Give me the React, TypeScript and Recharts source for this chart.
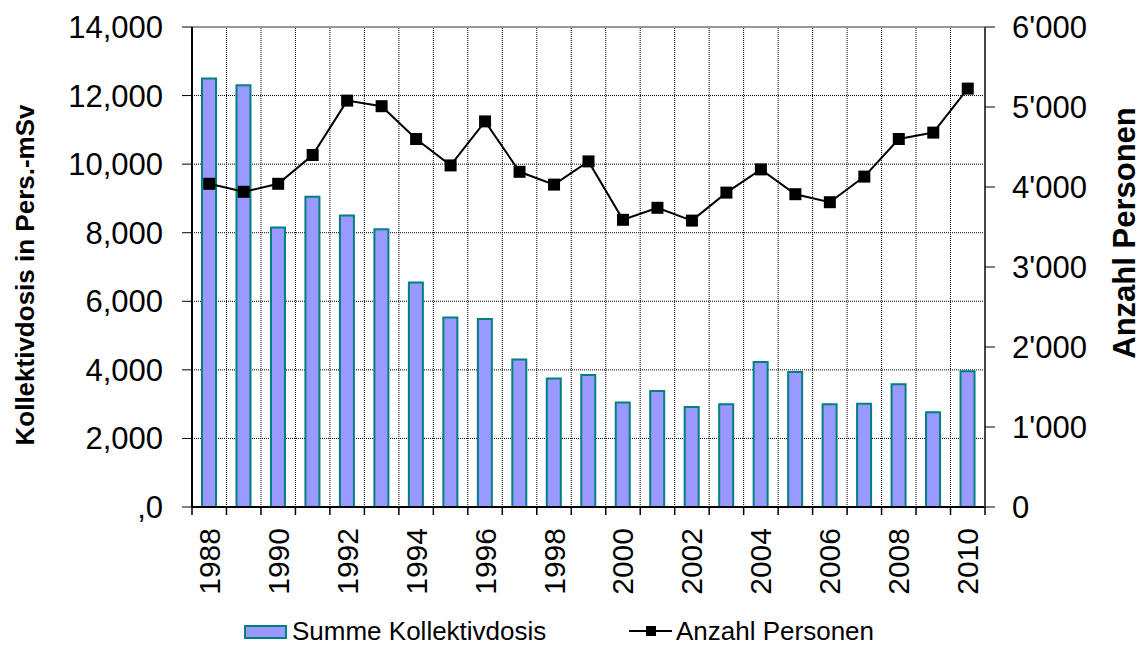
import React from "react"
import {
  Bar,
  CartesianGrid,
  ComposedChart,
  Line,
  ReferenceLine,
  XAxis,
  YAxis,
} from "recharts"

const years = [
  1988, 1989, 1990, 1991, 1992, 1993, 1994, 1995, 1996, 1997, 1998, 1999,
  2000, 2001, 2002, 2003, 2004, 2005, 2006, 2007, 2008, 2009, 2010,
]
// Summe Kollektivdosis (Pers.-mSv)
const kollektivdosis = [
  12500, 12300, 8150, 9050, 8500, 8100, 6550, 5530, 5480, 4300, 3750, 3850,
  3050, 3380, 2920, 3000, 4230, 3940, 3000, 3010, 3580, 2760, 3960,
]
// Anzahl Personen
const personen = [
  4040, 3940, 4040, 4400, 5080, 5010, 4600, 4270, 4820, 4190, 4030, 4320,
  3590, 3740, 3580, 3930, 4220, 3910, 3810, 4130, 4600, 4680, 5230,
]
const leftTicks = [0, 2000, 4000, 6000, 8000, 10000, 12000, 14000]
const rightTicks = [0, 1000, 2000, 3000, 4000, 5000, 6000]

const data = years.map((y, i) => ({
  year: String(y),
  dosis: kollektivdosis[i],
  personen: personen[i],
}))

const FONT = "'Liberation Sans', Arial, Helvetica, sans-serif"
const BAR_FILL = "#9999ff"
const BAR_STROKE = "#008080"
const GRID = "#000"

const fmtLeft = (v: number) => (v === 0 ? ",0" : v.toLocaleString("en-US"))
const fmtRight = (v: number) =>
  v === 0 ? "0" : v.toLocaleString("en-US").replace(/,/g, "'")

function YearTick(props: any) {
  const { x, y, payload } = props
  return (
    <text
      x={x}
      y={y}
      transform={`rotate(-90 ${x} ${y})`}
      textAnchor="end"
      dominantBaseline="central"
      fontSize={30}
      fontFamily={FONT}
      fill="#000"
    >
      {payload.value}
    </text>
  )
}

// dotted category separator with a small solid tick under the x axis
function Separator(props: any) {
  const { x1, y1, x2, y2 } = props
  if (x1 == null) return null
  const bottom = Math.max(y1, y2)
  return (
    <g>
      <line x1={x1} y1={y1} x2={x2} y2={y2} stroke={GRID} strokeDasharray="1 1" />
      <line x1={x1} y1={bottom} x2={x2} y2={bottom + 8} stroke="#000" strokeWidth={1.5} />
    </g>
  )
}

function SquareDot(props: any) {
  const { cx, cy } = props
  if (cx == null || cy == null) return null
  return <rect x={cx - 6} y={cy - 6} width={12} height={12} fill="#000" />
}

export default function App() {
  return (
    <div style={{ position: "absolute", left: 0, top: 0, width: 1142, height: 645, background: "#fff", fontFamily: FONT }}>
      <ComposedChart
        width={1142}
        height={645}
        data={data}
        margin={{ top: 27, right: 0, left: 0, bottom: 0 }}
        barSize={14}
      >
        <CartesianGrid
          yAxisId="left"
          vertical={false}
          stroke={GRID}
          strokeDasharray="1 1"
        />
        <XAxis
          dataKey="year"
          interval={1}
          tick={<YearTick />}
          tickLine={false}
          axisLine={{ stroke: "#000", strokeWidth: 2 }}
          tickSize={0}
          tickMargin={21}
          height={138}
        />
        <YAxis
          yAxisId="left"
          domain={[0, 14000]}
          ticks={leftTicks}
          tickFormatter={fmtLeft}
          width={192}
          tickSize={10}
          tickMargin={19}
          axisLine={{ stroke: "#000", strokeWidth: 2 }}
          tickLine={{ stroke: "#000" }}
          tick={{ fontSize: 31, fill: "#000", fontFamily: FONT }}
          label={{
            value: "Kollektivdosis in Pers.-mSv",
            angle: -90,
            position: "center",
            dx: -71,
            dy: 8,
            style: { fontSize: 26, fontWeight: "bold", fill: "#000", fontFamily: FONT },
          }}
        />
        <YAxis
          yAxisId="right"
          orientation="right"
          domain={[0, 6000]}
          ticks={rightTicks}
          tickFormatter={fmtRight}
          width={157}
          tickSize={10}
          tickMargin={17}
          axisLine={{ stroke: "#444", strokeWidth: 2 }}
          tickLine={{ stroke: "#000" }}
          tick={{ fontSize: 31, fill: "#000", fontFamily: FONT, textAnchor: "start" }}
          label={{
            value: "Anzahl Personen",
            angle: -90,
            position: "center",
            dx: 60,
            dy: -34,
            style: { fontSize: 31, fontWeight: "bold", fill: "#000", fontFamily: FONT },
          }}
        />
        <ReferenceLine yAxisId="left" y={14000} stroke="#999" strokeWidth={2} />
        {years.map((y) => (
          <ReferenceLine
            key={y}
            yAxisId="left"
            x={String(y)}
            position="start"
            ifOverflow="visible"
            shape={<Separator />}
          />
        ))}
        <ReferenceLine
          yAxisId="left"
          x={String(years[years.length - 1])}
          position="end"
          ifOverflow="visible"
          shape={<Separator />}
        />
        <Bar
          yAxisId="left"
          dataKey="dosis"
          name="Summe Kollektivdosis"
          fill={BAR_FILL}
          stroke={BAR_STROKE}
          strokeWidth={2}
          isAnimationActive={false}
        />
        <Line
          yAxisId="right"
          dataKey="personen"
          name="Anzahl Personen"
          type="linear"
          stroke="#000"
          strokeWidth={2}
          dot={<SquareDot />}
          activeDot={false}
          isAnimationActive={false}
        />
      </ComposedChart>

      {/* legend */}
      <div style={{ position: "absolute", left: 244, top: 625, width: 39, height: 10, background: BAR_FILL, border: `2px solid ${BAR_STROKE}` }} />
      <div style={{ position: "absolute", left: 292, top: 616, fontSize: 26, lineHeight: "30px", color: "#000" }}>
        Summe Kollektivdosis
      </div>
      <div style={{ position: "absolute", left: 629, top: 630, width: 43, height: 2, background: "#000" }} />
      <div style={{ position: "absolute", left: 646, top: 626, width: 10, height: 10, background: "#000" }} />
      <div style={{ position: "absolute", left: 676, top: 616, fontSize: 26, lineHeight: "30px", color: "#000" }}>
        Anzahl Personen
      </div>
    </div>
  )
}
